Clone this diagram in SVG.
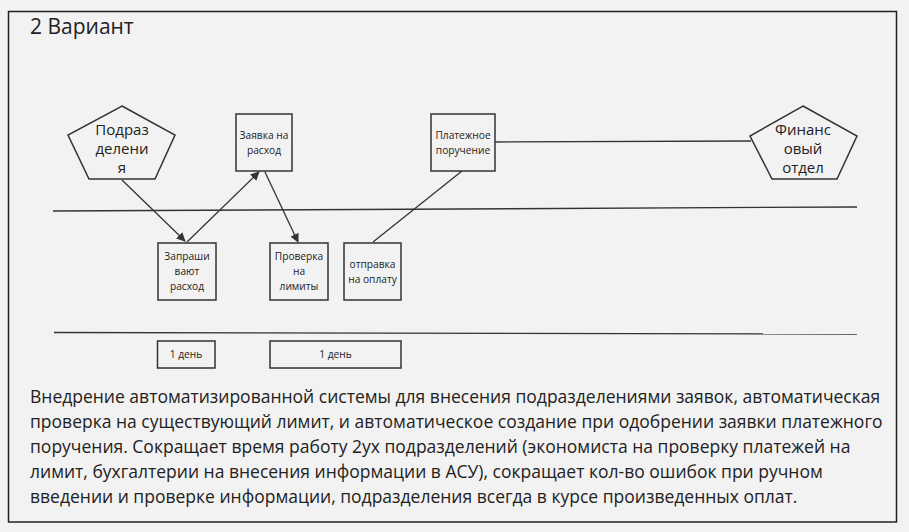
<svg xmlns="http://www.w3.org/2000/svg" width="909" height="532" viewBox="0 0 909 532">
<style>
.bg{fill:#f2f2f2}
.frame{fill:none;stroke:#222;stroke-width:1.5}
.shape{fill:#f2f2f2;stroke:#333;stroke-width:1.5}
.line{fill:none;stroke:#333;stroke-width:1.3}
.t{font-family:"Open Sans","Noto Sans","DejaVu Sans",sans-serif;fill:#222;text-anchor:middle}
.s{font-size:10.2px}
.p{font-size:15px}
.para{font-family:"Open Sans","Noto Sans","DejaVu Sans",sans-serif;fill:#222;font-size:17.5px}
</style>
<defs>
<marker id="arr" viewBox="0 0 10 10" refX="9" refY="5" markerWidth="9" markerHeight="9" markerUnits="userSpaceOnUse" orient="auto">
<path d="M0,0 L10,5 L0,10 Z" fill="#333"/>
</marker>
</defs>
<rect class="bg" x="0" y="0" width="909" height="532"/>
<rect class="frame" x="8.5" y="11.5" width="888" height="510.5"/>
<text x="30" y="34" style="font-family:'Open Sans','Noto Sans',sans-serif;font-size:21px;fill:#222">2 Вариант</text>

<g id="lanes">
<line class="line" x1="53" y1="211" x2="857" y2="207"/>
<line class="line" x1="54" y1="332.5" x2="857" y2="334"/>
</g>

<g id="connectors">
<line class="line" x1="122" y1="180" x2="185" y2="241" marker-end="url(#arr)"/>
<line class="line" x1="187" y1="242" x2="259" y2="172" marker-end="url(#arr)"/>
<line class="line" x1="265" y1="172" x2="298" y2="242" marker-end="url(#arr)"/>
<line class="line" x1="462" y1="171" x2="373" y2="242"/>
<line class="line" x1="495" y1="142" x2="751" y2="141"/>
</g>

<g id="podrazdeleniya">
<polygon class="shape" points="122,106 175,135 155,179 89,179 68,135"/>
<text class="t p" x="122" y="135">Подраз</text>
<text class="t p" x="122" y="154">делени</text>
<text class="t p" x="122" y="173">я</text>
</g>

<g id="zayavka">
<rect class="shape" x="236" y="114" width="56" height="57"/>
<text class="t s" x="264" y="139">Заявка на</text>
<text class="t s" x="264" y="154">расход</text>
</g>

<g id="zaprashivayut">
<rect class="shape" x="158" y="243" width="58" height="57"/>
<text class="t s" x="187" y="260">Запраши</text>
<text class="t s" x="187" y="275">вают</text>
<text class="t s" x="187" y="290">расход</text>
</g>

<g id="proverka">
<rect class="shape" x="270" y="243" width="58" height="57"/>
<text class="t s" x="299" y="260">Проверка</text>
<text class="t s" x="299" y="275">на</text>
<text class="t s" x="299" y="290">лимиты</text>
</g>

<g id="otpravka">
<rect class="shape" x="344" y="243" width="57" height="57"/>
<text class="t s" x="372.5" y="268">отправка</text>
<text class="t s" x="372.5" y="283">на оплату</text>
</g>

<g id="platezhnoe">
<rect class="shape" x="431" y="114" width="64" height="57"/>
<text class="t s" x="463" y="139">Платежное</text>
<text class="t s" x="463" y="154">поручение</text>
</g>

<g id="finansovy">
<polygon class="shape" points="803,106 857,136 837,179 772,179 750,136"/>
<text class="t p" x="803" y="135">Финанс</text>
<text class="t p" x="803" y="154">овый</text>
<text class="t p" x="803" y="173">отдел</text>
</g>

<g id="day1">
<rect class="shape" x="157.5" y="341" width="57.5" height="27"/>
<text class="t s" x="186" y="358">1 день</text>
</g>

<g id="day2">
<rect class="shape" x="270" y="341" width="131" height="27"/>
<text class="t s" x="335.5" y="358">1 день</text>
</g>

<g id="description">
<text class="para" x="30" y="403">Внедрение автоматизированной системы для внесения подразделениями заявок, автоматическая</text>
<text class="para" x="30" y="428">проверка на существующий лимит, и автоматическое создание при одобрении заявки платежного</text>
<text class="para" x="30" y="453">поручения. Сокращает время работу 2ух подразделений (экономиста на проверку платежей на</text>
<text class="para" x="30" y="478">лимит, бухгалтерии на внесения информации в АСУ), сокращает кол-во ошибок при ручном</text>
<text class="para" x="30" y="503">введении и проверке информации, подразделения всегда в курсе произведенных оплат.</text>
</g>
</svg>
